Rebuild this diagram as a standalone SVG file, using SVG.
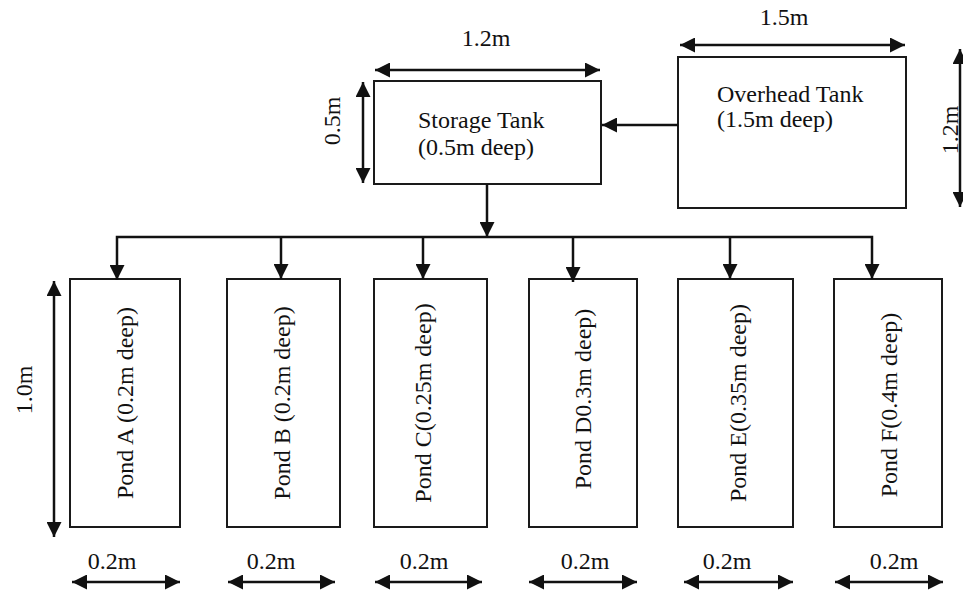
<svg xmlns="http://www.w3.org/2000/svg" width="963" height="594" viewBox="0 0 963 594">
<style>
.box{fill:#fff;stroke:#1a1a1a;stroke-width:2}
.ln{fill:none;stroke:#111;stroke-width:2.5}
.t{font-family:"Liberation Serif","Times New Roman",serif;font-size:24px;fill:#111}
.m{text-anchor:middle}
</style>
<defs>
<marker id="ah" markerUnits="userSpaceOnUse" viewBox="0 0 15 15" refX="15" refY="7.5" markerWidth="15" markerHeight="15" orient="auto-start-reverse">
<path d="M0,0 L15,7.5 L0,15 z" fill="#111"/>
</marker>
</defs>
<rect width="963" height="594" fill="#fff"/>

<g id="storage-tank">
<rect class="box" x="374" y="81" width="227" height="103"/>
<text class="t" x="418" y="128">Storage Tank</text>
<text class="t" x="418" y="155">(0.5m deep)</text>
</g>
<g id="overhead-tank">
<rect class="box" x="678" y="57" width="228" height="151"/>
<text class="t" x="717" y="102">Overhead Tank</text>
<text class="t" x="717" y="127">(1.5m deep)</text>
</g>
<g id="pond-a">
<rect class="box" x="70" y="279" width="110" height="248"/>
<text class="t m" transform="translate(133,403) rotate(-90)">Pond A (0.2m deep)</text>
</g>
<g id="pond-b">
<rect class="box" x="227" y="279" width="113" height="248"/>
<text class="t m" transform="translate(290,403) rotate(-90)">Pond B (0.2m deep)</text>
</g>
<g id="pond-c">
<rect class="box" x="374" y="279" width="113" height="248"/>
<text class="t m" transform="translate(431,403) rotate(-90)">Pond C(0.25m deep)</text>
</g>
<g id="pond-d">
<rect class="box" x="529" y="279" width="108" height="248"/>
<text class="t m" transform="translate(591,399) rotate(-90)">Pond D0.3m deep)</text>
</g>
<g id="pond-e">
<rect class="box" x="678" y="279" width="115" height="248"/>
<text class="t m" transform="translate(746,403) rotate(-90)">Pond E(0.35m deep)</text>
</g>
<g id="pond-f">
<rect class="box" x="834" y="279" width="108" height="248"/>
<text class="t m" transform="translate(897,405) rotate(-90)">Pond F(0.4m deep)</text>
</g>

<g id="connectors">
<line class="ln" x1="678" y1="125" x2="602" y2="125" marker-end="url(#ah)"/>
<line class="ln" x1="487" y1="184" x2="487" y2="237" marker-end="url(#ah)"/>
<polyline class="ln" points="117,280 117,237 872,237 872,279" marker-start="url(#ah)" marker-end="url(#ah)"/>
<line class="ln" x1="281" y1="237" x2="281" y2="279" marker-end="url(#ah)"/>
<line class="ln" x1="423" y1="237" x2="423" y2="279" marker-end="url(#ah)"/>
<line class="ln" x1="573" y1="237" x2="573" y2="282" marker-end="url(#ah)"/>
<line class="ln" x1="730" y1="237" x2="730" y2="279" marker-end="url(#ah)"/>
</g>

<g id="dimensions">
<line class="ln" x1="375" y1="70" x2="600" y2="70" marker-start="url(#ah)" marker-end="url(#ah)"/>
<text class="t m" x="486" y="46">1.2m</text>
<line class="ln" x1="680" y1="45" x2="905" y2="45" marker-start="url(#ah)" marker-end="url(#ah)"/>
<text class="t m" x="784" y="25">1.5m</text>
<line class="ln" x1="363" y1="82" x2="363" y2="183" marker-start="url(#ah)" marker-end="url(#ah)"/>
<text class="t m" transform="translate(340,121) rotate(-90)">0.5m</text>
<line class="ln" x1="960" y1="49" x2="960" y2="207" marker-start="url(#ah)" marker-end="url(#ah)"/>
<text class="t m" transform="translate(958,130) rotate(-90)">1.2m</text>
<line class="ln" x1="54" y1="281" x2="54" y2="537" marker-start="url(#ah)" marker-end="url(#ah)"/>
<text class="t m" transform="translate(32,390) rotate(-90)">1.0m</text>
<line class="ln" x1="72" y1="582" x2="180" y2="582" marker-start="url(#ah)" marker-end="url(#ah)"/>
<text class="t m" x="112" y="569">0.2m</text>
<line class="ln" x1="228" y1="582" x2="335" y2="582" marker-start="url(#ah)" marker-end="url(#ah)"/>
<text class="t m" x="271" y="569">0.2m</text>
<line class="ln" x1="375" y1="582" x2="482" y2="582" marker-start="url(#ah)" marker-end="url(#ah)"/>
<text class="t m" x="424" y="569">0.2m</text>
<line class="ln" x1="529" y1="582" x2="637" y2="582" marker-start="url(#ah)" marker-end="url(#ah)"/>
<text class="t m" x="585" y="569">0.2m</text>
<line class="ln" x1="684" y1="582" x2="793" y2="582" marker-start="url(#ah)" marker-end="url(#ah)"/>
<text class="t m" x="727" y="569">0.2m</text>
<line class="ln" x1="835" y1="582" x2="943" y2="582" marker-start="url(#ah)" marker-end="url(#ah)"/>
<text class="t m" x="894" y="569">0.2m</text>
</g>
</svg>
